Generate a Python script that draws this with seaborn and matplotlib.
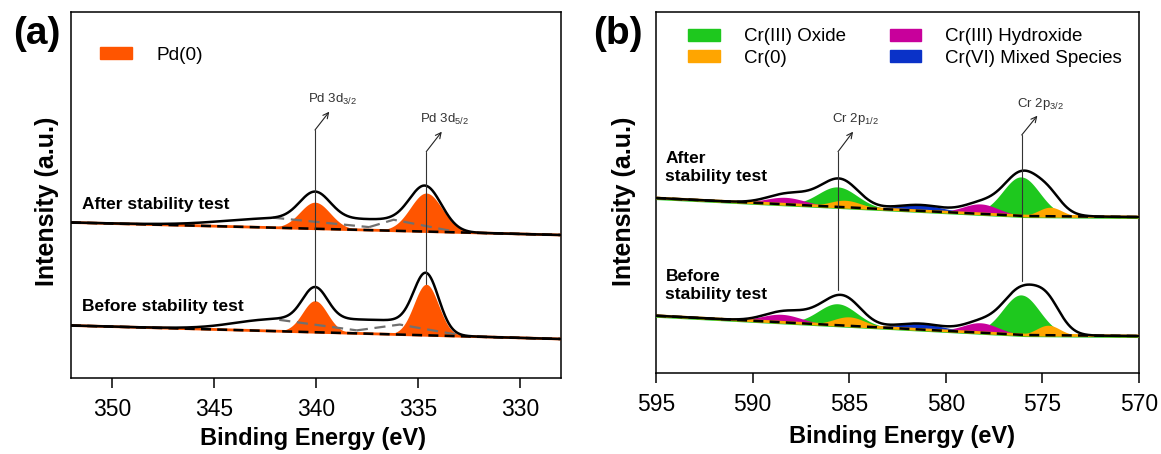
import numpy as np
import matplotlib
matplotlib.use("Agg")
import matplotlib.pyplot as plt
import seaborn as sns
from matplotlib.patches import Patch

# ---------------- Pd 3d region (panel a) ----------------
pd_peak_labels = ["Pd 3d$_{\\mathregular{3/2}}$", "Pd 3d$_{\\mathregular{5/2}}$"]
pd_center = [340.05, 334.6]
pd_height_after = [26.5, 38.5]
pd_sigma_after = [0.74, 0.78]
pd_height_before = [31.5, 51.0]
pd_sigma_before = [0.61, 0.6]
# linear background at 352 eV and 328 eV
pd_bg_be = [352.0, 328.0]
pd_bg_after = [155.5, 143.0]
pd_bg_before = [52.5, 39.0]
# loss/tail contribution in the measured envelope:
# height, high-BE edge, edge width, low-BE edge, edge width
pd_tail_after = [11.0, 344.5, 1.3, 334.3, 0.45]
pd_tail_before = [14.0, 344.0, 1.0, 334.0, 0.4]
# per-component background traces (BE, offset above baseline)
pd_trace_be_after = [[342.1, 337.4], [337.4, 336.2, 333.3]]
pd_trace_off_after = [[10.0, 3.0], [3.0, 11.0, 1.0]]
pd_trace_be_before = [[341.8, 338.0], [338.0, 335.9, 332.6]]
pd_trace_off_before = [[11.4, 3.0], [3.0, 10.0, 0.0]]

# ---------------- Cr 2p region (panel b) ----------------
cr_peak_labels = ["Cr 2p$_{\\mathregular{1/2}}$", "Cr 2p$_{\\mathregular{3/2}}$"]
cr_peak_center = [585.58, 576.07]
cr_species = ["Cr(III) Oxide", "Cr(0)", "Cr(III) Hydroxide", "Cr(VI) Mixed Species"]

oxide_center = [585.6, 576.1]
oxide_h_after = [20.0, 39.0]
oxide_h_before = [21.5, 40.0]
oxide_sigma = [1.0, 0.95]

metal_center_after = [585.2, 574.6]
metal_center_before = [585.0, 574.7]
metal_h_after = [7.0, 9.0]
metal_h_before = [9.0, 10.0]
metal_sigma = [0.8, 0.6]

hydrox_center_after = [588.3, 578.2]
hydrox_center_before = [588.5, 578.2]
hydrox_h_after = [7.0, 10.0]
hydrox_h_before = [8.0, 10.0]
hydrox_sigma = [1.0, 0.9]

cr6_center = [581.3]
cr6_h_after = [6.0]
cr6_h_before = [6.0]
cr6_sigma = [1.2]

# background knots
cr_bg_be = [595.0, 576.0, 570.0]
cr_bg_after = [175.0, 157.0, 156.0]
cr_bg_before = [57.3, 38.0, 37.0]
# unassigned intensity in the measured envelope
cr_extra_center_after = [575.0, 587.3]
cr_extra_h_after = [9.0, 5.0]
cr_extra_sigma_after = [1.0, 1.3]
cr_extra_center_before = [574.7, 576.0, 587.3]
cr_extra_h_before = [16.0, 4.0, 5.0]
cr_extra_sigma_before = [0.8, 1.0, 1.2]

# ---------------- colours ----------------
PD_ORANGE = "#ff5500"
C_OXIDE = "#1ec81e"
C_METAL = "#ffa500"
C_HYDROX = "#c8009b"
C_CR6 = "#0a32c8"
cr_colors = [C_OXIDE, C_METAL, C_HYDROX, C_CR6]


def gauss(x, centers, heights, sigmas):
    y = np.zeros_like(x)
    for c, h, s in zip(centers, heights, sigmas):
        y += h * np.exp(-0.5 * ((x - c) / s) ** 2)
    return y


def sig(z):
    return 1.0 / (1.0 + np.exp(-z))


def tail(x, p):
    h, xl, wl, xr, wr = p
    return h * sig(-(x - xl) / wl) * sig((x - xr) / wr)


def baseline(x, knots_be, knots_y):
    order = np.argsort(knots_be)
    return np.interp(x, np.asarray(knots_be)[order], np.asarray(knots_y)[order])


sns.set_style("ticks")
plt.rcParams["font.family"] = ["Liberation Sans", "DejaVu Sans"]
plt.rcParams["mathtext.fontset"] = "custom"
plt.rcParams["mathtext.rm"] = "Liberation Sans"
plt.rcParams["axes.linewidth"] = 1.1
plt.rcParams["text.color"] = "black"
plt.rcParams["axes.labelcolor"] = "black"
plt.rcParams["xtick.color"] = "black"
plt.rcParams["xtick.labelcolor"] = "black"

W, H = 1161, 454
fig = plt.figure(figsize=(W / 100, H / 100), dpi=100)


def px_axes(l, r, t, b):
    return fig.add_axes([l / W, (H - b) / H, (r - l) / W, (b - t) / H])


ax_a = px_axes(71, 561, 12, 378)
ax_b = px_axes(656, 1139, 12, 373)

TICK_FS = 16.5
LBL_FS = 17


def style_axes(ax, xlim, ylim, ticks):
    ax.set_xlim(*xlim)
    ax.set_ylim(*ylim)
    ax.set_xticks(ticks)
    ax.set_yticks([])
    ax.tick_params(axis="x", direction="out", length=7.5, width=1.1,
                   labelsize=TICK_FS, pad=7, colors="black")
    for s in ax.spines.values():
        s.set_visible(True)
        s.set_color("black")
        s.set_linewidth(1.1)
    ax.set_xlabel("Binding Energy (eV)", fontsize=LBL_FS, fontweight="bold",
                  color="black")
    ax.set_ylabel("Intensity (a.u.)", fontsize=18, fontweight="bold",
                  color="black")


# ================= panel (a) =================
be_a = np.linspace(352, 328, 1500)
pd_sets = [
    (pd_height_after, pd_sigma_after, pd_bg_after, pd_tail_after,
     pd_trace_be_after, pd_trace_off_after),
    (pd_height_before, pd_sigma_before, pd_bg_before, pd_tail_before,
     pd_trace_be_before, pd_trace_off_before),
]
pd_before_tops = []
for heights, sigmas, bgv, tl, tr_be, tr_off in pd_sets:
    bg = baseline(be_a, pd_bg_be, bgv)
    comps = [gauss(be_a, [c], [h], [s]) for c, h, s in zip(pd_center, heights, sigmas)]
    for comp in comps:
        ax_a.fill_between(be_a, bg, bg + comp, color=PD_ORANGE, lw=0, zorder=2)
    env = bg + sum(comps) + tail(be_a, tl)
    for seg_be, seg_off in zip(tr_be, tr_off):
        seg_be = np.asarray(seg_be)
        seg_y = baseline(seg_be, pd_bg_be, bgv) + np.asarray(seg_off)
        ax_a.plot(seg_be, seg_y, color="#707070", lw=1.6, dashes=(5, 3), zorder=3)
    ax_a.plot(be_a, bg, color=PD_ORANGE, lw=2.0, zorder=3)
    ax_a.plot(be_a, bg, color="black", lw=1.8, dashes=(4, 2.5), zorder=3.5)
    sns.lineplot(x=be_a, y=env, ax=ax_a, color="black", lw=1.8,
                 sort=False, estimator=None, zorder=4)
    pd_before_tops = [baseline(np.array([c]), pd_bg_be, bgv)[0] + h
                      for c, h in zip(pd_center, heights)]

style_axes(ax_a, (352, 328), (0, 366), [350, 345, 340, 335, 330])

# peak marker lines with arrow callouts
pd_marker_top = [248.0, 226.3]
pd_arrow_tip = [(339.35, 266.3), (333.84, 246.3)]
pd_text_pos = [(339.2, 279.0), (333.7, 259.0)]
for c, top, bot, tip, tp, lab in zip(pd_center, pd_marker_top, pd_before_tops,
                                     pd_arrow_tip, pd_text_pos, pd_peak_labels):
    ax_a.plot([c, c], [bot, top], color="#333333", lw=0.8, zorder=5)
    ax_a.annotate("", xy=tip, xytext=(c, top),
                  arrowprops=dict(arrowstyle="->", color="#222222", lw=0.8,
                                  shrinkA=0, shrinkB=0), zorder=5)
    ax_a.text(tp[0], tp[1], lab, fontsize=9.5, color="#333333",
              ha="center", va="center", zorder=5)

ax_a.text(351.48, 173, "After stability test", fontsize=12.5, fontweight="bold",
          ha="left", va="center")
ax_a.text(351.48, 71, "Before stability test", fontsize=12.5, fontweight="bold",
          ha="left", va="center")

ax_a.legend(handles=[Patch(color=PD_ORANGE, label="Pd(0)")], loc="upper left",
            bbox_to_anchor=((100 - 71) / 490, 0.905), frameon=False,
            fontsize=13.7, handlelength=1.67, handleheight=0.63,
            handletextpad=1.3, borderpad=0, borderaxespad=0)

ax_a.yaxis.set_label_coords((59 - 71) / 490, 0.482)
ax_a.xaxis.set_label_coords(0.494, -0.135)

# ================= panel (b) =================
be_b = np.linspace(595, 570, 1500)
cr_sets = [
    (cr_bg_after,
     [(oxide_center, oxide_h_after, oxide_sigma),
      (metal_center_after, metal_h_after, metal_sigma),
      (hydrox_center_after, hydrox_h_after, hydrox_sigma),
      (cr6_center, cr6_h_after, cr6_sigma)],
     (cr_extra_center_after, cr_extra_h_after, cr_extra_sigma_after)),
    (cr_bg_before,
     [(oxide_center, oxide_h_before, oxide_sigma),
      (metal_center_before, metal_h_before, metal_sigma),
      (hydrox_center_before, hydrox_h_before, hydrox_sigma),
      (cr6_center, cr6_h_before, cr6_sigma)],
     (cr_extra_center_before, cr_extra_h_before, cr_extra_sigma_before)),
]
# fill order: oxide, hydroxide, Cr(VI), metal on top
fill_order = [0, 2, 3, 1]
cr_before_env = None
for bgv, species, extra in cr_sets:
    bg = baseline(be_b, cr_bg_be, bgv)
    comps = [gauss(be_b, c, h, s) for c, h, s in species]
    for i in fill_order:
        ax_b.fill_between(be_b, bg, bg + comps[i], color=cr_colors[i], lw=0, zorder=2)
    env = bg + sum(comps) + gauss(be_b, *extra)
    ax_b.plot(be_b, bg - 0.8, color=C_OXIDE, lw=1.8, zorder=3)
    ax_b.plot(be_b, bg, color=C_METAL, lw=2.0, zorder=3)
    ax_b.plot(be_b, bg, color="black", lw=1.8, dashes=(4, 2.5), zorder=3.5)
    sns.lineplot(x=be_b, y=env, ax=ax_b, color="black", lw=1.8,
                 sort=False, estimator=None, zorder=4)
    cr_before_env = env

style_axes(ax_b, (595, 570), (0, 361), [595, 590, 585, 580, 575, 570])

cr_marker_top = [221.3, 238.0]
cr_arrow_tip = [(584.8, 241.3), (575.26, 257.3)]
cr_text_pos = [(584.7, 254.0), (575.1, 269.0)]
for c, top, tip, tp, lab in zip(cr_peak_center, cr_marker_top, cr_arrow_tip,
                                cr_text_pos, cr_peak_labels):
    bot = np.interp(c, be_b[::-1], cr_before_env[::-1]) + 5
    ax_b.plot([c, c], [bot, top], color="#333333", lw=0.8, zorder=5)
    ax_b.annotate("", xy=tip, xytext=(c, top),
                  arrowprops=dict(arrowstyle="->", color="#222222", lw=0.8,
                                  shrinkA=0, shrinkB=0), zorder=5)
    ax_b.text(tp[0], tp[1], lab, fontsize=9.5, color="#333333",
              ha="center", va="center", zorder=5)

ax_b.text(594.51, 205.6, "After\nstability test", fontsize=12.5, fontweight="bold",
          ha="left", va="center", linespacing=1.25)
ax_b.text(594.51, 87.2, "Before\nstability test", fontsize=12.5, fontweight="bold",
          ha="left", va="center", linespacing=1.25)

ax_b.legend(handles=[Patch(color=col, label=lab) for col, lab in zip(cr_colors, cr_species)],
            ncol=2, loc="upper left", bbox_to_anchor=((688 - 656) / 483, 0.955),
            frameon=False, fontsize=13.5, handlelength=1.7, handleheight=0.63,
            handletextpad=1.26, columnspacing=2.35, labelspacing=0.23,
            borderpad=0, borderaxespad=0)

ax_b.yaxis.set_label_coords((636 - 656) / 483, 0.476)
ax_b.xaxis.set_label_coords(0.51, -0.145)

# panel tags
fig.text(36.7 / W, 1 - 34 / H, "(a)", fontsize=28, fontweight="bold",
         ha="center", va="center")
fig.text(618 / W, 1 - 34 / H, "(b)", fontsize=28, fontweight="bold",
         ha="center", va="center")

fig.savefig("out.png", dpi=100)
